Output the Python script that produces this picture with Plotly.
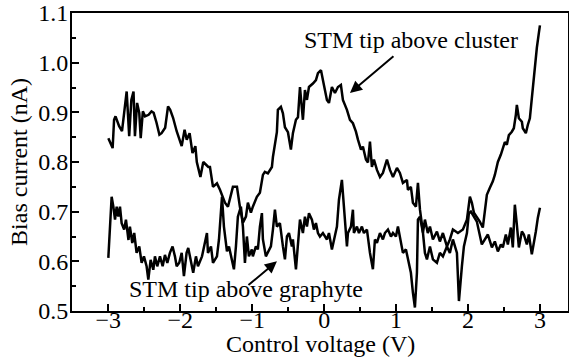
import plotly.graph_objects as go

# STM tip above cluster
cluster_x = [-3.00, -2.94, -2.92, -2.90, -2.85, -2.81, -2.78, -2.745, -2.71, -2.68, -2.65, -2.63, -2.60, -2.57,
             -2.55, -2.52, -2.49, -2.44, -2.40, -2.37, -2.33, -2.29, -2.26, -2.21, -2.17, -2.14, -2.10, -2.05,
             -1.98, -1.94, -1.91, -1.87, -1.83, -1.79, -1.77, -1.72, -1.68, -1.61, -1.587, -1.545, -1.49, -1.448,
             -1.379, -1.337, -1.268, -1.212, -1.171, -1.129, -1.087, -1.060, -1.018, -0.991, -0.935, -0.893,
             -0.851, -0.824, -0.782, -0.726, -0.712, -0.657, -0.643, -0.601, -0.573, -0.545, -0.503, -0.462,
             -0.434, -0.392, -0.364, -0.336, -0.295, -0.267, -0.239, -0.211, -0.156, -0.114, -0.086, -0.044,
             -0.017, 0.039, 0.067, 0.108, 0.150, 0.192, 0.233, 0.261, 0.317, 0.359, 0.400, 0.442, 0.470, 0.512,
             0.539, 0.581, 0.609, 0.637, 0.664, 0.692, 0.734, 0.776, 0.817, 0.873, 0.915, 0.957, 1.012, 1.053,
             1.095, 1.151, 1.165, 1.206, 1.234, 1.276, 1.304, 1.332, 1.374, 1.401, 1.441, 1.471, 1.512, 1.568,
             1.609, 1.651, 1.707, 1.748, 1.790, 1.860, 1.929, 1.985, 2.026, 2.054, 2.082, 2.123, 2.164, 2.206,
             2.234, 2.262, 2.304, 2.345, 2.373, 2.401, 2.415, 2.457, 2.484, 2.512, 2.540, 2.568, 2.609, 2.637,
             2.665, 2.679, 2.707, 2.749, 2.762, 2.804, 2.832, 2.860, 2.887, 2.915, 2.943, 2.957, 2.985, 3.00]
cluster_y = [0.848, 0.828, 0.885, 0.892, 0.872, 0.862, 0.899, 0.942, 0.852, 0.925, 0.942, 0.852, 0.919, 0.899,
             0.848, 0.902, 0.892, 0.895, 0.902, 0.899, 0.879, 0.855, 0.858, 0.869, 0.912, 0.905, 0.889, 0.862,
             0.832, 0.865, 0.845, 0.858, 0.818, 0.832, 0.800, 0.770, 0.800, 0.790, 0.790, 0.750, 0.757, 0.744,
             0.718, 0.710, 0.750, 0.750, 0.710, 0.678, 0.690, 0.718, 0.698, 0.710, 0.730, 0.738,
             0.774, 0.780, 0.777, 0.790, 0.810, 0.860, 0.905, 0.911, 0.898, 0.870, 0.860, 0.825,
             0.858, 0.885, 0.890, 0.951, 0.885, 0.945, 0.925, 0.951, 0.958, 0.965, 0.979, 0.985,
             0.965, 0.925, 0.919, 0.951, 0.939, 0.951, 0.955, 0.925, 0.905, 0.885, 0.878, 0.861, 0.845, 0.825,
             0.831, 0.805, 0.799, 0.841, 0.790, 0.805, 0.784, 0.770, 0.778, 0.805, 0.784, 0.770, 0.788, 0.778,
             0.758, 0.764, 0.744, 0.750, 0.718, 0.710, 0.758, 0.704, 0.658, 0.684, 0.657, 0.670, 0.644, 0.660,
             0.640, 0.657, 0.630, 0.644, 0.664, 0.657, 0.664, 0.684, 0.730, 0.718, 0.698, 0.690, 0.680, 0.668,
             0.708, 0.734, 0.748, 0.761, 0.774, 0.788, 0.800, 0.815, 0.828, 0.840, 0.835, 0.854, 0.861, 0.868,
             0.895, 0.915, 0.888, 0.881, 0.868, 0.858, 0.875, 0.888, 0.928, 0.975, 1.010, 1.030, 1.060, 1.075]

# STM tip above graphyte
graph_x = [-3.00, -2.977, -2.954, -2.93, -2.907, -2.884, -2.86, -2.838, -2.815, -2.78, -2.755, -2.72, -2.70,
           -2.667, -2.64, -2.607, -2.57, -2.537, -2.505, -2.468, -2.444, -2.412, -2.375, -2.352, -2.32, -2.282,
           -2.245, -2.213, -2.18, -2.144, -2.107, -2.074, -2.05, -2.014, -1.98, -1.949, -1.912, -1.889, -1.856,
           -1.82, -1.782, -1.754, -1.698, -1.670, -1.629, -1.615, -1.573, -1.545, -1.490, -1.462, -1.420,
           -1.393, -1.351, -1.323, -1.281, -1.254, -1.226, -1.199, -1.157, -1.129, -1.101, -1.074, -1.046,
           -1.005, -0.991, -0.949, -0.921, -0.893, -0.865, -0.851, -0.810, -0.782, -0.740, -0.712, -0.684,
           -0.657, -0.615, -0.573, -0.545, -0.517, -0.489, -0.448, -0.434, -0.392, -0.364, -0.336, -0.295,
           -0.267, -0.239, -0.211, -0.170, -0.142, -0.114, -0.086, -0.058, -0.017, 0.039, 0.067, 0.108, 0.136,
           0.178, 0.206, 0.247, 0.275, 0.317, 0.331, 0.373, 0.400, 0.414, 0.456, 0.484, 0.525, 0.553, 0.595,
           0.637, 0.678, 0.706, 0.734, 0.776, 0.817, 0.845, 0.887, 0.929, 0.957, 0.998, 1.026, 1.067, 1.095,
           1.137, 1.165, 1.206, 1.234, 1.262, 1.290, 1.304, 1.332, 1.374, 1.401, 1.429, 1.471, 1.512, 1.568,
           1.609, 1.651, 1.707, 1.748, 1.790, 1.846, 1.874, 1.915, 1.943, 1.985, 2.012, 2.040, 2.123, 2.192,
           2.276, 2.332, 2.373, 2.415, 2.457, 2.484, 2.526, 2.554, 2.596, 2.623, 2.651, 2.679, 2.707, 2.749,
           2.776, 2.818, 2.846, 2.887, 2.915, 2.943, 2.971, 3.00]
graph_y = [0.607, 0.657, 0.730, 0.710, 0.684, 0.710, 0.690, 0.710, 0.677, 0.664, 0.684, 0.643, 0.670,
           0.637, 0.657, 0.617, 0.630, 0.597, 0.610, 0.590, 0.563, 0.603, 0.583, 0.610, 0.590, 0.610,
           0.590, 0.613, 0.597, 0.617, 0.630, 0.610, 0.590, 0.597, 0.617, 0.570, 0.617, 0.627, 0.603,
           0.577, 0.610, 0.590, 0.610, 0.630, 0.657, 0.617, 0.630, 0.597, 0.610, 0.644, 0.730,
           0.670, 0.620, 0.630, 0.604, 0.584, 0.630, 0.690, 0.710, 0.670, 0.597, 0.650, 0.610,
           0.624, 0.610, 0.630, 0.624, 0.670, 0.697, 0.644, 0.610, 0.617, 0.630, 0.664, 0.704,
           0.670, 0.677, 0.630, 0.604, 0.650, 0.657, 0.630, 0.644, 0.584, 0.630, 0.684, 0.657,
           0.690, 0.670, 0.697, 0.684, 0.664, 0.677, 0.657, 0.650, 0.657, 0.644, 0.657, 0.624, 0.644,
           0.670, 0.724, 0.764, 0.710, 0.630, 0.657, 0.670, 0.704, 0.657, 0.670, 0.657, 0.670, 0.657, 0.664,
           0.617, 0.584, 0.644, 0.637, 0.657, 0.644, 0.657, 0.664, 0.650, 0.657, 0.650, 0.670, 0.637, 0.617,
           0.624, 0.604, 0.577, 0.537, 0.507, 0.577, 0.684, 0.690, 0.657, 0.617, 0.604, 0.630, 0.604, 0.597,
           0.617, 0.610, 0.630, 0.617, 0.644, 0.617, 0.520, 0.590, 0.630, 0.657, 0.697, 0.700, 0.680, 0.634,
           0.654, 0.628, 0.640, 0.620, 0.634, 0.628, 0.654, 0.634, 0.668, 0.628, 0.714, 0.674, 0.628, 0.660,
           0.654, 0.634, 0.654, 0.614, 0.634, 0.660, 0.688, 0.708]

x_ticks = [-3, -2, -1, 0, 1, 2, 3]
x_tick_labels = ["\u22123", "\u22122", "\u22121", "0", "1", "2", "3"]
y_ticks = [0.5, 0.6, 0.7, 0.8, 0.9, 1.0, 1.1]
y_tick_labels = ["0.5", "0.6", "0.7", "0.8", "0.9", "1.0", "1.1"]

FONT = "Times New Roman, Liberation Serif, DejaVu Serif, serif"
FS = 24

fig = go.Figure()
fig.add_trace(go.Scatter(x=cluster_x, y=cluster_y, mode="lines",
                         line=dict(color="black", width=2.5), showlegend=False))
fig.add_trace(go.Scatter(x=graph_x, y=graph_y, mode="lines",
                         line=dict(color="black", width=2.5), showlegend=False))

fig.add_annotation(x=0.359, y=0.939, ax=45, ay=-38, text="", showarrow=True,
                   arrowhead=2, arrowsize=1.2, arrowwidth=2, arrowcolor="black")
fig.add_annotation(x=1.213, y=1.046, text="STM tip above cluster", showarrow=False,
                   font=dict(family=FONT, size=FS, color="black"))
fig.add_annotation(x=-0.656, y=0.60, ax=-30, ay=25, text="", showarrow=True,
                   arrowhead=2, arrowsize=1.2, arrowwidth=2, arrowcolor="black")
fig.add_annotation(x=-1.08, y=0.5436, text="STM tip above graphyte", showarrow=False,
                   font=dict(family=FONT, size=FS, color="black"))

# axis titles
fig.add_annotation(xref="paper", yref="paper", x=0.5, y=-0.111, yanchor="middle", xanchor="center",
                   text="Control voltage (V)", showarrow=False,
                   font=dict(family=FONT, size=FS, color="black"))
fig.add_annotation(xref="paper", yref="paper", x=-0.107, y=0.5, xanchor="center", yanchor="middle",
                   textangle=-90, text="Bias current (nA)", showarrow=False,
                   font=dict(family=FONT, size=FS, color="black"))

axis_common = dict(showline=True, linecolor="black", linewidth=2, mirror=True, automargin=False,
                   ticks="inside", tickcolor="black", tickwidth=1.5, showgrid=False,
                   zeroline=False, tickfont=dict(family=FONT, size=FS, color="black"))

fig.update_xaxes(range=[-3.505, 3.39], tickvals=x_ticks, ticktext=x_tick_labels, ticklen=7,
                 ticklabelstandoff=-14,
                 minor=dict(dtick=0.5, ticks="inside", ticklen=4, tickcolor="black", tickwidth=1.5),
                 **axis_common)
fig.update_yaxes(range=[0.5, 1.1], tickvals=y_ticks, ticktext=y_tick_labels, ticklen=7,
                 ticklabelstandoff=-3,
                 minor=dict(dtick=0.05, ticks="inside", ticklen=4, tickcolor="black", tickwidth=1.5),
                 **axis_common)

fig.update_layout(width=569, height=363, margin=dict(l=72, r=1, t=13, b=52),
                  plot_bgcolor="white", paper_bgcolor="white",
                  font=dict(family=FONT, color="black"))

fig.write_html("out.html", config={"displayModeBar": False},
               post_script="document.body.style.margin='0';document.body.style.overflow='hidden';")
